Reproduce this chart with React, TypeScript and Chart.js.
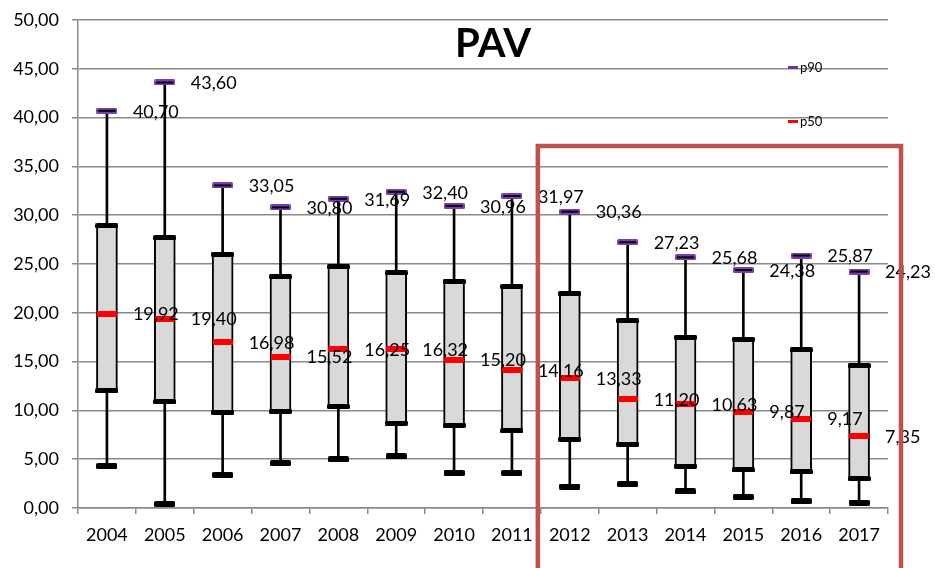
import React, { useEffect, useRef } from "react";
import { Chart, registerables } from "chart.js";

Chart.register(...registerables);

const years = ["2004", "2005", "2006", "2007", "2008", "2009", "2010", "2011", "2012", "2013", "2014", "2015", "2016", "2017"];
const p90 = [40.7, 43.6, 33.05, 30.8, 31.69, 32.4, 30.96, 31.97, 30.36, 27.23, 25.68, 24.38, 25.87, 24.23];
const p50 = [19.92, 19.4, 16.98, 15.52, 16.25, 16.32, 15.2, 14.16, 13.33, 11.2, 10.63, 9.87, 9.17, 7.35];
const q3 = [28.9, 27.7, 26.0, 23.7, 24.7, 24.1, 23.2, 22.7, 22.0, 19.2, 17.5, 17.3, 16.2, 14.6];
const q1 = [12.0, 10.9, 9.8, 9.9, 10.4, 8.7, 8.5, 7.9, 7.05, 6.55, 4.3, 3.9, 3.7, 3.0];
const minV = [4.3, 0.4, 3.4, 4.6, 5.0, 5.3, 3.6, 3.6, 2.2, 2.45, 1.7, 1.15, 0.7, 0.55];
const yTicks = [0, 5, 10, 15, 20, 25, 30, 35, 40, 45, 50];

const FONT = "Lato, 'DejaVu Sans', sans-serif";
const fmt = (v: number) => v.toFixed(2).replace(".", ",");

function roundRect(ctx: CanvasRenderingContext2D, x: number, y: number, w: number, h: number, r: number) {
  ctx.beginPath();
  ctx.moveTo(x + r, y);
  ctx.lineTo(x + w - r, y);
  ctx.quadraticCurveTo(x + w, y, x + w, y + r);
  ctx.lineTo(x + w, y + h - r);
  ctx.quadraticCurveTo(x + w, y + h, x + w - r, y + h);
  ctx.lineTo(x + r, y + h);
  ctx.quadraticCurveTo(x, y + h, x, y + h - r);
  ctx.lineTo(x, y + r);
  ctx.quadraticCurveTo(x, y, x + r, y);
  ctx.closePath();
}

function makeMarker(w: number, h: number, fill: string, inner?: string) {
  const c = document.createElement("canvas");
  c.width = w;
  c.height = h;
  const ctx = c.getContext("2d")!;
  ctx.fillStyle = fill;
  roundRect(ctx, 0, 0, w, h, 1.5);
  ctx.fill();
  if (inner) {
    ctx.fillStyle = inner;
    ctx.fillRect(2, Math.floor(h / 2) - 1, w - 4, 2);
  }
  return c;
}

const overlayPlugin = {
  id: "overlay",
  afterDatasetsDraw(chart: any) {
    const ctx = chart.ctx as CanvasRenderingContext2D;
    const area = chart.chartArea;
    ctx.save();
    // value labels for p90 and p50
    ctx.font = `18px ${FONT}`;
    ctx.fillStyle = "#000";
    ctx.textAlign = "left";
    ctx.textBaseline = "middle";
    [2, 3].forEach((di) => {
      const meta = chart.getDatasetMeta(di);
      const vals = chart.data.datasets[di].data as number[];
      meta.data.forEach((el: any, i: number) => {
        ctx.fillText(fmt(vals[i]), el.x + 26, el.y + 1);
      });
    });
    // title
    ctx.font = `bold 40px ${FONT}`;
    ctx.textAlign = "center";
    ctx.textBaseline = "alphabetic";
    ctx.fillText("PAV", (area.left + area.right) / 2 + 10, 57);
    // legend
    const lx = area.right - 100;
    ctx.font = `13px ${FONT}`;
    ctx.textAlign = "left";
    ctx.textBaseline = "middle";
    ctx.fillStyle = "#7030a0";
    ctx.fillRect(lx, 66, 10, 3);
    ctx.fillStyle = "#000";
    ctx.fillText("p90", lx + 12, 68);
    ctx.fillStyle = "#ff0000";
    ctx.fillRect(lx, 120, 10, 3);
    ctx.fillStyle = "#000";
    ctx.fillText("p50", lx + 12, 122);
    // highlight frame
    const xs = chart.scales.x;
    const ys = chart.scales.y;
    const left = (xs.getPixelForValue(7) + xs.getPixelForValue(8)) / 2 - 3;
    const right = area.right + 13;
    const top = ys.getPixelForValue(37.1);
    ctx.strokeStyle = "#c0504d";
    ctx.lineWidth = 4.5;
    ctx.beginPath();
    ctx.moveTo(left, chart.height + 10);
    ctx.lineTo(left, top);
    ctx.lineTo(right, top);
    ctx.lineTo(right, chart.height + 10);
    ctx.stroke();
    ctx.restore();
  },
};

export default function App() {
  const ref = useRef<HTMLCanvasElement>(null);
  useEffect(() => {
    const p90Mark = makeMarker(21, 6, "#7a3db3", "#000");
    const p50Mark = makeMarker(20, 6, "#ff0000");
    const minMark = makeMarker(21, 6, "#000");
    const capMark = makeMarker(23, 5, "#000");
    const chart = new Chart(ref.current!, {
      type: "bar",
      data: {
        labels: years,
        datasets: [
          {
            type: "bar",
            label: "range",
            data: minV.map((m, i) => [m, p90[i]]) as any,
            backgroundColor: "#000",
            borderWidth: 0,
            barThickness: 2,
            grouped: false,
            order: 10,
          } as any,
          {
            type: "bar",
            label: "box",
            data: q1.map((a, i) => [a, q3[i]]) as any,
            backgroundColor: "#d9d9d9",
            borderColor: "#000",
            borderWidth: 2,
            borderSkipped: false,
            barThickness: 21,
            grouped: false,
            order: 9,
          } as any,
          {
            type: "line",
            label: "p90",
            data: p90,
            showLine: false,
            pointStyle: p90Mark,
            pointRadius: 5,
            order: 1,
          } as any,
          {
            type: "line",
            label: "p50",
            data: p50,
            showLine: false,
            pointStyle: p50Mark,
            pointRadius: 5,
            order: 1,
          } as any,
          {
            type: "line",
            label: "min",
            data: minV,
            showLine: false,
            pointStyle: minMark,
            pointRadius: 5,
            order: 2,
          } as any,
          {
            type: "line",
            label: "q3",
            data: q3,
            showLine: false,
            pointStyle: capMark,
            pointRadius: 5,
            order: 2,
          } as any,
          {
            type: "line",
            label: "q1",
            data: q1,
            showLine: false,
            pointStyle: capMark,
            pointRadius: 5,
            order: 2,
          } as any,
        ],
      },
      options: {
        responsive: false,
        animation: false,
        events: [],
        layout: { padding: { top: 20, right: 47, left: 0, bottom: 0 } },
        plugins: { legend: { display: false }, tooltip: { enabled: false }, title: { display: false } },
        scales: {
          x: {
            offset: true,
            afterFit: (s: any) => {
              s.height = 60;
            },
            grid: {
              display: true,
              drawOnChartArea: false,
              drawTicks: true,
              tickLength: 6,
              offset: true,
              color: "#8a8a8a",
              lineWidth: 1.5,
            },
            border: { display: true, color: "#8a8a8a", width: 1.5 },
            ticks: { color: "#000", font: { family: FONT, size: 18 }, padding: 10, maxRotation: 0 },
          },
          y: {
            min: 0,
            max: 50,
            afterFit: (s: any) => {
              s.width = 78;
              s.paddingTop = 0;
              s.paddingBottom = 0;
            },
            afterBuildTicks: (s: any) => {
              s.ticks = yTicks.map((v) => ({ value: v }));
            },
            grid: { color: "#8a8a8a", lineWidth: 1.5, tickLength: 6 },
            border: { display: true, color: "#8a8a8a", width: 1.5 },
            ticks: {
              color: "#000",
              font: { family: FONT, size: 18 },
              padding: 13,
              callback: (v: any) => fmt(Number(v)),
            },
          },
        },
      },
      plugins: [overlayPlugin],
    });
    return () => chart.destroy();
  }, []);
  return (
    <div style={{ position: "absolute", left: 0, top: 0, width: 935, height: 568, background: "#fff" }}>
      <canvas ref={ref} width={935} height={568} style={{ display: "block" }} />
    </div>
  );
}
